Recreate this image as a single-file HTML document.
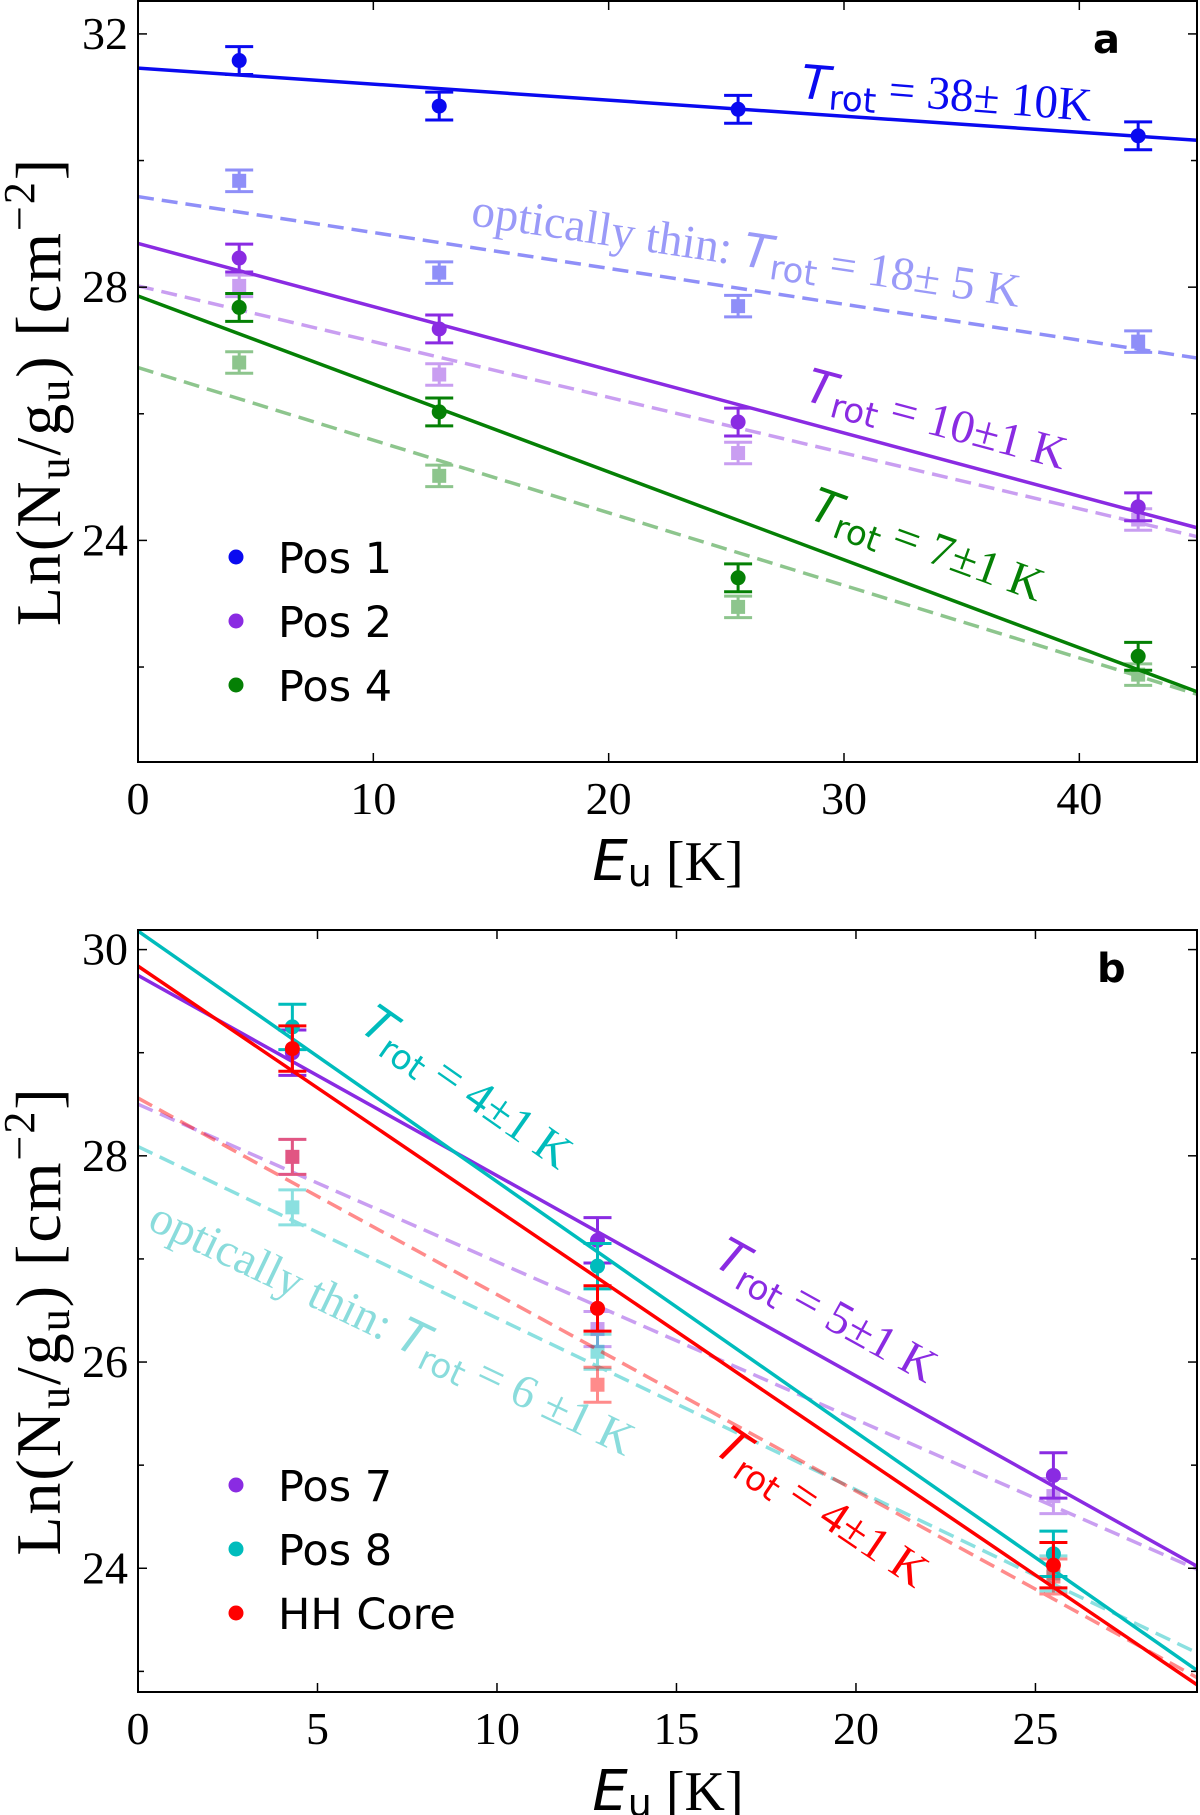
<!DOCTYPE html>
<html><head><meta charset="utf-8"><style>
html,body{margin:0;padding:0;background:#fff}
svg{display:block}
.tick{font-family:"Liberation Serif",serif;font-size:46px;fill:#000}
.leg{font-family:"DejaVu Sans",sans-serif;font-size:43px;fill:#000}
.lab{font-family:"Liberation Serif",serif;font-size:56px;fill:#000}
.ylab{font-family:"Liberation Serif",serif;font-size:64px;fill:#000;letter-spacing:2px}
.ann{font-family:"Liberation Serif",serif;font-size:47px}
.sans{font-family:"DejaVu Sans",sans-serif}
</style></head><body>
<svg id="chart" width="1200" height="1815" xmlns="http://www.w3.org/2000/svg"></svg>
<script>
// ---------- Panel a data ----------
const aX = [4.3, 12.8, 25.5, 42.5];
const aPos1 = [31.58, 30.86, 30.81, 30.39];
const aPos1Thin = [29.68, 28.23, 27.7, 27.14];
const aPos2 = [28.46, 27.34, 25.87, 24.53];
const aPos2Thin = [28.02, 26.62, 25.38, 24.33];
const aPos4 = [27.68, 26.03, 23.41, 22.17];
const aPos4Thin = [26.81, 25.02, 22.95, 21.88];
const aFitPos1 = [31.46, 30.32];
const aFitPos1Thin = [29.43, 26.88];
const aFitPos2 = [28.69, 24.2];
const aFitPos2Thin = [28.02, 24.06];
const aFitPos4 = [27.86, 21.61];
const aFitPos4Thin = [26.73, 21.57];
const aXTicks = [0, 10, 20, 30, 40];
const aYTicks = [24, 28, 32];
const aYMinor = [22, 26, 30];
// ---------- Panel b data ----------
const bX = [4.3, 12.8, 25.5];
const bPos7 = [29.0, 27.18, 24.9];
const bPos7Thin = [27.99, 26.32, 24.7];
const bPos8 = [29.25, 26.93, 24.14];
const bPos8Thin = [27.5, 26.1, 23.95];
const bHH = [29.04, 26.52, 24.03];
const bHHThin = [27.99, 25.78, 23.92];
const bFitPos7 = [29.75, 24.02];
const bFitPos7Thin = [28.5, 23.99];
const bFitPos8 = [30.18, 23.01];
const bFitPos8Thin = [28.09, 23.18];
const bFitHH = [29.84, 22.87];
const bFitHHThin = [28.56, 22.94];
const bXTicks = [0, 5, 10, 15, 20, 25];
const bYTicks = [24, 26, 28, 30];
const bYMinor = [23, 25, 27, 29];

const NS = "http://www.w3.org/2000/svg";
const svg = document.getElementById('chart');
function mk(tag, attrs, parent) {
  const e = document.createElementNS(NS, tag);
  for (const k in attrs) e.setAttribute(k, attrs[k]);
  (parent || svg).appendChild(e);
  return e;
}

function panel(cfg) {
  const g = mk('g', {});
  
  
  const L = 138, R = 1197, T = cfg.top, B = cfg.bottom;
  const sx = v => L + (v - cfg.xmin) / (cfg.xmax - cfg.xmin) * (R - L);
  const sy = v => B - (v - cfg.ymin) / (cfg.ymax - cfg.ymin) * (B - T);
  const clip = mk('clipPath', {id: cfg.name + '-clip'}, g);
  mk('rect', {x: L, y: T, width: R - L, height: B - T}, clip);
  const plot = mk('g', {'clip-path': 'url(#' + cfg.name + '-clip)'}, g);

  cfg.series.forEach(s => {
    const sg = mk('g', {opacity: s.thin ? 0.45 : 1}, plot);
    
    
    const ln = mk('line', {x1: sx(cfg.xmin), y1: sy(s.fit[0]), x2: sx(cfg.xmax), y2: sy(s.fit[1]),
      stroke: s.color, 'stroke-width': 3.5, 'stroke-dasharray': s.thin ? '16 8' : 'none'}, sg);
    
    
    s.vals.forEach((v, i) => {
      const x = sx(cfg.xs[i]), y = sy(v);
      const err = s.thin ? 0.17 : 0.22;
      const y1 = sy(v + err), y2 = sy(v - err);
      mk('line', {x1: x, y1: y1, x2: x, y2: y2, stroke: s.color, 'stroke-width': 3}, sg);
      mk('line', {x1: x - 14, y1: y1, x2: x + 14, y2: y1, stroke: s.color, 'stroke-width': 3}, sg);
      mk('line', {x1: x - 14, y1: y2, x2: x + 14, y2: y2, stroke: s.color, 'stroke-width': 3}, sg);
      let m;
      if (s.thin) m = mk('rect', {x: x - 7, y: y - 7, width: 14, height: 14, fill: s.color}, sg);
      else m = mk('circle', {cx: x, cy: y, r: 7.5, fill: s.color}, sg);
      
      
    });
  });

  const fr = mk('rect', {x: L, y: T, width: R - L, height: B - T, fill: 'none', stroke: '#000', 'stroke-width': 2}, g);
  
  
  cfg.xticks.forEach(t => {
    const x = sx(t);
    mk('line', {x1: x, y1: B, x2: x, y2: B - 9, stroke: '#000', 'stroke-width': 1.5}, g);
    mk('line', {x1: x, y1: T, x2: x, y2: T + 9, stroke: '#000', 'stroke-width': 1.5}, g);
    const tx = mk('text', {x: x, y: B + 52, 'text-anchor': 'middle', class: 'tick'}, g);
    tx.textContent = t;
    
    
  });
  cfg.yticks.forEach(t => {
    const y = sy(t);
    mk('line', {x1: L, y1: y, x2: L + 9, y2: y, stroke: '#000', 'stroke-width': 1.5}, g);
    mk('line', {x1: R, y1: y, x2: R - 9, y2: y, stroke: '#000', 'stroke-width': 1.5}, g);
    const tx = mk('text', {x: L - 10, y: y + 15, 'text-anchor': 'end', class: 'tick'}, g);
    tx.textContent = t;
    
    
  });
  cfg.yminor.forEach(t => {
    const y = sy(t);
    mk('line', {x1: L, y1: y, x2: L + 6, y2: y, stroke: '#000', 'stroke-width': 1.5}, g);
    mk('line', {x1: R, y1: y, x2: R - 6, y2: y, stroke: '#000', 'stroke-width': 1.5}, g);
  });
  const yt = mk('text', {x: 0, y: 0, class: 'ylab', 'text-anchor': 'middle',
    transform: 'translate(60,' + ((T + B) / 2 + 10) + ') rotate(-90)'}, g);
  yt.innerHTML = 'Ln(N<tspan font-size="44" dy="9">u</tspan><tspan dy="-9">/g</tspan><tspan font-size="44" dy="9">u</tspan><tspan dy="-9">)  [cm</tspan><tspan font-size="44" dy="-26">−2</tspan><tspan dy="26">]</tspan>';
  
  
  const xt = mk('text', {x: 668, y: B + 118, class: 'lab', 'text-anchor': 'middle'}, g);
  xt.innerHTML = '<tspan class="sans" font-style="italic">E</tspan><tspan class="sans" font-size="38" dy="6">u</tspan><tspan dy="-6"> [K]</tspan>';
  
  
  const pl = mk('text', {x: cfg.letterX, y: T + 52, class: 'sans', 'font-size': 40, 'font-weight': 'bold'}, g);
  pl.textContent = cfg.letter;
  
  
  cfg.legend.forEach((l, i) => {
    const y = cfg.legY + i * 64;
    const c = mk('circle', {cx: 236, cy: y, r: 7.5, fill: l[1]}, g);
    
    
    const t = mk('text', {x: 278, y: y + 16, class: 'leg'}, g);
    t.textContent = l[0];
    
    
  });
  cfg.ann.forEach(a => {
    const t = mk('text', {x: 0, y: 0, class: 'ann', fill: a.color, transform: 'translate(' + a.x + ',' + a.y + ') rotate(' + a.rot + ')'}, g);
    t.innerHTML = (a.pre || '') + '<tspan class="sans" font-style="italic">T</tspan><tspan class="sans" font-size="34" dy="9">rot</tspan><tspan dy="-9"> = ' + a.txt + '</tspan>';
    
    
  });
}

const BLUE = '#0a0af0', PURPLE = '#8a2be2', GREEN = '#058005', CYAN = '#00bcbc', RED = '#ff0000';

panel({name: 'panel-a', top: 1, bottom: 762, xmin: 0, xmax: 45, ymin: 20.5, ymax: 32.52,
  xs: aX, xticks: aXTicks, yticks: aYTicks, yminor: aYMinor, letter: 'a', letterX: 1093,
  series: [
    {id: 'pos1-thin', vals: aPos1Thin, fit: aFitPos1Thin, color: BLUE, thin: true},
    {id: 'pos2-thin', vals: aPos2Thin, fit: aFitPos2Thin, color: PURPLE, thin: true},
    {id: 'pos4-thin', vals: aPos4Thin, fit: aFitPos4Thin, color: GREEN, thin: true},
    {id: 'pos1', vals: aPos1, fit: aFitPos1, color: BLUE},
    {id: 'pos2', vals: aPos2, fit: aFitPos2, color: PURPLE},
    {id: 'pos4', vals: aPos4, fit: aFitPos4, color: GREEN}],
  legY: 557, legend: [['Pos 1', BLUE], ['Pos 2', PURPLE], ['Pos 4', GREEN]],
  ann: [
    {x: 800, y: 98, rot: 4.5, color: BLUE, txt: '38± 10K'},
    {x: 470, y: 225, rot: 8.5, color: '#9a9af8', pre: 'optically thin: ', txt: '18± 5 K'},
    {x: 803, y: 400, rot: 15, color: PURPLE, txt: '10±1 K'},
    {x: 807, y: 518, rot: 20, color: GREEN, txt: '7±1 K'}]
});

panel({name: 'panel-b', top: 930, bottom: 1692, xmin: 0, xmax: 29.5, ymin: 22.8, ymax: 30.19,
  xs: bX, xticks: bXTicks, yticks: bYTicks, yminor: bYMinor, letter: 'b', letterX: 1097,
  series: [
    {id: 'pos7-thin', vals: bPos7Thin, fit: bFitPos7Thin, color: PURPLE, thin: true},
    {id: 'pos8-thin', vals: bPos8Thin, fit: bFitPos8Thin, color: CYAN, thin: true},
    {id: 'hh-core-thin', vals: bHHThin, fit: bFitHHThin, color: RED, thin: true},
    {id: 'pos7', vals: bPos7, fit: bFitPos7, color: PURPLE},
    {id: 'pos8', vals: bPos8, fit: bFitPos8, color: CYAN},
    {id: 'hh-core', vals: bHH, fit: bFitHH, color: RED}],
  legY: 1485, legend: [['Pos 7', PURPLE], ['Pos 8', CYAN], ['HH Core', RED]],
  ann: [
    {x: 358, y: 1030, rot: 35, color: CYAN, txt: '4±1 K'},
    {x: 712, y: 1265, rot: 29, color: PURPLE, txt: '5±1 K'},
    {x: 712, y: 1452, rot: 34, color: RED, txt: '4±1 K'},
    {x: 146, y: 1228, rot: 25.5, color: '#8adcdc', pre: 'optically thin: ', txt: '6 ±1 K'}]
});
</script>
</body></html>
